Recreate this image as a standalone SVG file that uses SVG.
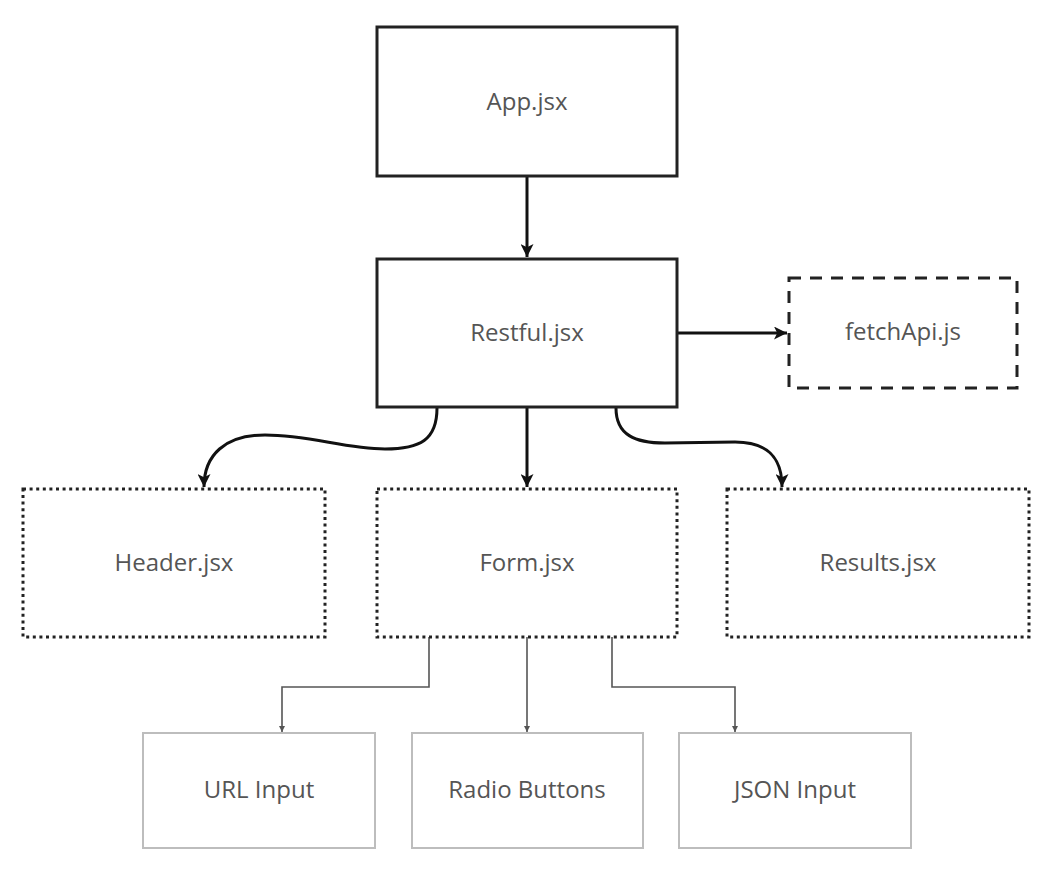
<svg xmlns="http://www.w3.org/2000/svg" width="1048" height="874" viewBox="0 0 1048 874">
<defs>
<style>
.lbl{font-family:"Open Sans","Liberation Sans",sans-serif;font-size:24px;fill:#555;text-anchor:middle}
.solid{fill:#fff;stroke:#222;stroke-width:3}
.dot{fill:#fff;stroke:#222;stroke-width:3;stroke-dasharray:3 3.6}
.dash{fill:#fff;stroke:#222;stroke-width:3;stroke-dasharray:12 9}
.light{fill:#fff;stroke:#bdbdbd;stroke-width:2}
.edge{fill:none;stroke:#111;stroke-width:3;marker-end:url(#big)}
.thin{fill:none;stroke:#555;stroke-width:1.6;marker-end:url(#small)}
</style>
<marker id="big" viewBox="0 0 10 10" refX="10" refY="5" markerUnits="userSpaceOnUse" markerWidth="14" markerHeight="13" orient="auto">
<path d="M0,0 L10,5 L0,10 L2.5,5 z" fill="#111"/>
</marker>
<marker id="small" viewBox="0 0 10 10" refX="10" refY="5" markerUnits="userSpaceOnUse" markerWidth="7" markerHeight="6" orient="auto">
<path d="M0,0 L10,5 L0,10 z" fill="#555"/>
</marker>
</defs>
<rect width="1048" height="874" fill="#fff"/>
<g id="connectors">
<path class="edge" d="M527,176 L527,257"/>
<path class="edge" d="M527,408 L527,487"/>
<path class="edge" d="M678,333 L787,333"/>
<path class="edge" d="M437,408 C437,440 420,449 385,449 C345,449 310,435 265,435 C225,435 204,455 204,487"/>
<path class="edge" d="M616,408 C616,435 635,443 665,443 L735,442 C765,442 782,455 782,487"/>
<path class="thin" d="M429,637 L429,687 L282,687 L282,732"/>
<path class="thin" d="M527,637 L527,732"/>
<path class="thin" d="M612,637 L612,687 L735,687 L735,732"/>
</g>
<g id="app"><rect class="solid" x="377" y="27" width="300" height="149"/><text class="lbl" x="527" y="110">App.jsx</text></g>
<g id="restful"><rect class="solid" x="377" y="259" width="300" height="148"/><text class="lbl" x="527" y="341">Restful.jsx</text></g>
<g id="fetchapi"><rect class="dash" x="789" y="278" width="228" height="110"/><text class="lbl" x="903" y="340">fetchApi.js</text></g>
<g id="header"><rect class="dot" x="23" y="489" width="302" height="148"/><text class="lbl" x="174" y="571">Header.jsx</text></g>
<g id="form"><rect class="dot" x="377" y="489" width="300" height="148"/><text class="lbl" x="527" y="571">Form.jsx</text></g>
<g id="results"><rect class="dot" x="727" y="489" width="302" height="148"/><text class="lbl" x="878" y="571">Results.jsx</text></g>
<g id="url"><rect class="light" x="143" y="733" width="232" height="115"/><text class="lbl" x="259" y="798">URL Input</text></g>
<g id="radio"><rect class="light" x="412" y="733" width="231" height="115"/><text class="lbl" x="527" y="798">Radio Buttons</text></g>
<g id="json"><rect class="light" x="679" y="733" width="232" height="115"/><text class="lbl" x="795" y="798">JSON Input</text></g>
</svg>
